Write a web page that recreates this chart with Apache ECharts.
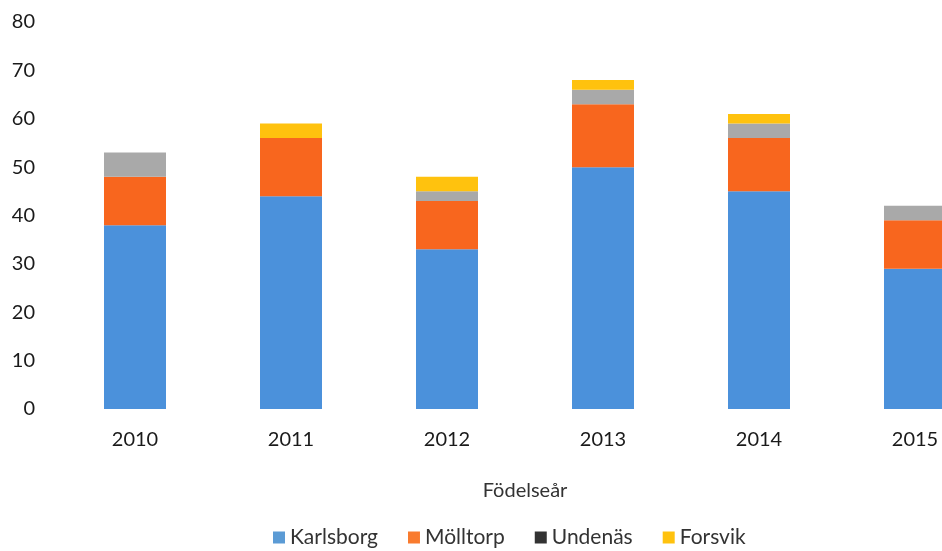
<!DOCTYPE html>
<html>
<head>
<meta charset="utf-8">
<script src="https://cdn.jsdelivr.net/npm/echarts@6/dist/echarts.min.js"></script>
<style>html,body{margin:0;padding:0;background:#fff;overflow:hidden;width:942px;height:551px}#c{width:1000px;height:551px}</style>
</head>
<body>
<div id="c"></div>
<script>
var categories = ['2010', '2011', '2012', '2013', '2014', '2015'];
var karlsborg = [38, 44, 33, 50, 45, 29];
var molltorp = [10, 12, 10, 13, 11, 10];
var undenas = [5, 0, 2, 3, 3, 3];
var forsvik = [0, 3, 3, 2, 2, 0];
var yTicks = [0, 10, 20, 30, 40, 50, 60, 70, 80];

var FONT = 'Lato';
var chart = echarts.init(document.getElementById('c'), null, {renderer: 'canvas'});
function bar(name, data, color) {
  return {name: name, type: 'bar', stack: 'total', data: data, barWidth: 62,
    itemStyle: {color: color}, emphasis: {disabled: true}};
}
chart.setOption({
  animation: false,
  textStyle: {fontFamily: FONT},
  grid: {left: 57, top: 22, bottom: 142, right: 7, containLabel: false},
  xAxis: {
    type: 'category', data: categories,
    axisLine: {show: false}, axisTick: {show: false},
    axisLabel: {color: '#1a1a1a', fontSize: 20, margin: 21, fontFamily: FONT},
    name: 'Födelseår', nameLocation: 'middle', nameGap: 72,
    nameTextStyle: {color: '#333', fontSize: 20, fontFamily: FONT}
  },
  yAxis: {
    type: 'value', min: yTicks[0], max: yTicks[yTicks.length - 1], interval: 10,
    splitLine: {show: false}, axisLine: {show: false}, axisTick: {show: false},
    axisLabel: {color: '#1a1a1a', fontSize: 20, margin: 22, fontFamily: FONT}
  },
  legend: {
    top: 522, left: 268, itemWidth: 12, itemHeight: 12, itemGap: 30,
    icon: 'rect',
    textStyle: {color: '#333', fontSize: 21, fontFamily: FONT},
    data: [
      {name: 'Karlsborg', itemStyle: {color: '#5B9BD5'}},
      {name: 'Mölltorp', itemStyle: {color: '#F97B2E'}},
      {name: 'Undenäs', itemStyle: {color: '#333333'}},
      {name: 'Forsvik', itemStyle: {color: '#FFC20E'}}
    ]
  },
  series: [
    bar('Karlsborg', karlsborg, '#4B91DB'),
    bar('Mölltorp', molltorp, '#F8661E'),
    bar('Undenäs', undenas, '#A9A9A9'),
    bar('Forsvik', forsvik, '#FFC20E')
  ]
});
</script>
</body>
</html>
